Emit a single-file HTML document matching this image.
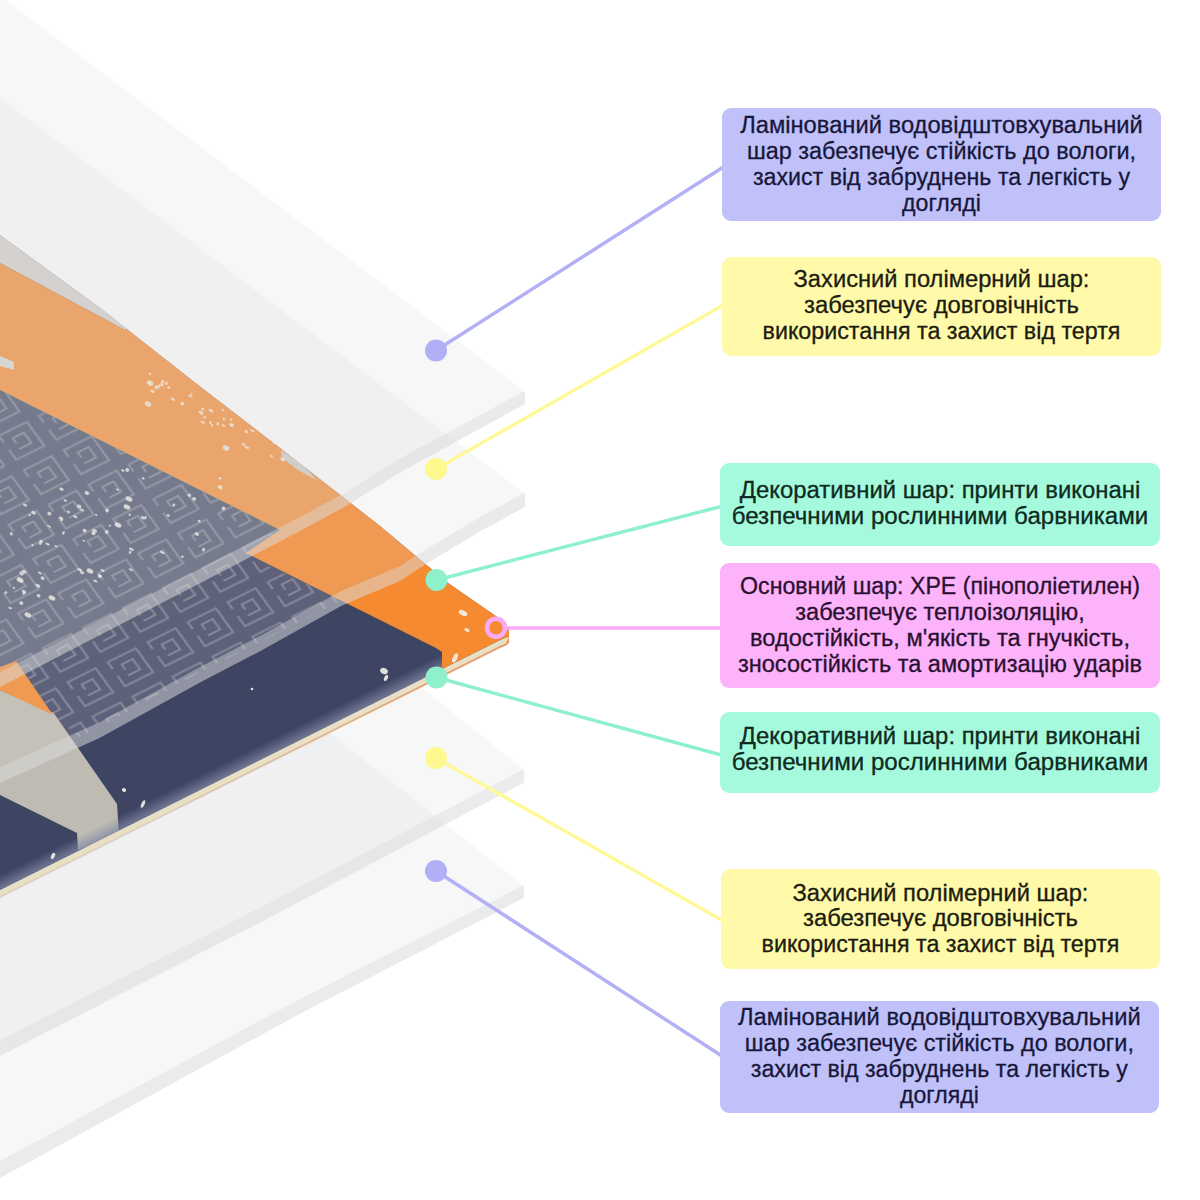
<!DOCTYPE html>
<html lang="uk">
<head>
<meta charset="utf-8">
<title>Шари килимка</title>
<style>
html,body{margin:0;padding:0;background:#fff;}
body{width:1200px;height:1200px;position:relative;overflow:hidden;font-family:"Liberation Sans",sans-serif;}
#art{position:absolute;left:0;top:0;width:1200px;height:1200px;}
.box{position:absolute;left:720px;width:440px;border-radius:9px;box-sizing:border-box;text-align:center;font-size:23px;line-height:25.9px;-webkit-text-stroke:0.3px currentColor;color:#1c1c1c;}
.box span{display:block;white-space:nowrap;transform-origin:50% 50%;}
.lav{background:#c1c1fa;color:#17173a;}
.yel{left:721.5px;width:439px;background:#fffaa9;color:#1d1c10;}
.mint{background:#a5fadd;color:#0f2a20;}
.pink{background:#fcb3fa;color:#2a1030;}
</style>
</head>
<body>
<svg id="art" width="1200" height="1200" viewBox="0 0 1200 1200">
<!--SHEETS-BOTTOM-->
<polygon points="-20.0,457.9 524.0,885.0 300.0,999.0 0.0,1161.0 -20.0,1171.8" fill="#d6d6d6" fill-opacity="0.2"/>
<polygon points="524.0,885.0 300.0,999.0 0.0,1161.0 -20.0,1171.8 -20.0,1189.0 0.0,1178.0 300.0,1013.7 524.0,898.0" fill="#d2d2d2" fill-opacity="0.45"/>
<line x1="-20.0" y1="458.9" x2="524.0" y2="886.0" stroke="#fff" stroke-opacity="0.55" stroke-width="1.6"/>
<polygon points="-20.0,333.0 524.0,768.8 275.0,900.0 0.0,1040.0 -20.0,1050.2" fill="#d6d6d6" fill-opacity="0.2"/>
<polygon points="524.0,768.8 275.0,900.0 0.0,1040.0 -20.0,1050.2 -20.0,1066.3 0.0,1056.0 275.0,914.8 524.0,782.5" fill="#d2d2d2" fill-opacity="0.45"/>
<line x1="-20.0" y1="334.0" x2="524.0" y2="769.8" stroke="#fff" stroke-opacity="0.55" stroke-width="1.6"/>
<!--/SHEETS-BOTTOM-->
<!--MAT-->
<defs><linearGradient id="edgeg" gradientUnits="userSpaceOnUse" x1="150" y1="0" x2="470" y2="0"><stop offset="0" stop-color="#d8d2c0"/><stop offset="1" stop-color="#e39a66"/></linearGradient></defs>
<polygon points="509.0,636.0 506.0,637.5 500.0,640.0 0.0,890.0 -20.0,900.0 -20.0,908.0 0.0,898.0 500.0,648.0 506.0,645.5 509.0,643.0" fill="url(#edgeg)"/>
<polygon points="509.0,636.0 506.0,637.5 500.0,640.0 0.0,890.0 -20.0,900.0 -20.0,906.0 0.0,896.0 500.0,646.0 506.0,643.5" fill="#e9dfc4"/>
<defs><clipPath id="matclip"><polygon points="-20.0,220.4 0.0,235.0 100.0,308.0 200.0,386.5 280.0,448.0 330.0,487.0 380.0,526.0 448.0,583.0 500.0,619.0 506.0,624.0 509.0,630.0 509.0,636.0 506.0,637.5 500.0,640.0 0.0,890.0 -20.0,900.0"/></clipPath>
<pattern id="key" width="40" height="40" patternUnits="userSpaceOnUse" patternTransform="matrix(1.0 -0.5 0.62 0.86 6 4)"><path d="M6 14V6H34V34H6V22 M14 26H26V14H15V20" fill="none" stroke="#fff" stroke-opacity="0.26" stroke-width="1.9"/></pattern>
<linearGradient id="sheen" gradientUnits="userSpaceOnUse" x1="250" y1="765" x2="244" y2="753"><stop offset="0" stop-color="#8088a4" stop-opacity="0.75"/><stop offset="1" stop-color="#8088a4" stop-opacity="0"/></linearGradient>
</defs>
<g clip-path="url(#matclip)">
<rect x="-20" y="200" width="560" height="720" fill="#3e4563"/>
<polygon points="-20.0,380.0 0.0,390.0 280.0,530.0 246.0,556.0 342.0,600.0 260.0,642.0 200.0,672.0 100.0,727.0 80.0,737.0 53.0,715.0 16.0,661.0 -20.0,670.0" fill="url(#key)"/>
<polygon points="-20.0,200.0 -20.0,252.0 0.0,263.0 125.0,330.0 200.0,300.0" fill="#d2cfca"/>
<polygon points="-20.0,252.0 0.0,263.0 125.0,330.0 200.0,300.0 540.0,560.0 520.0,660.0 442.0,668.0 442.0,652.0 436.0,648.0 246.0,553.0 280.0,530.0 0.0,390.0 -20.0,380.0" fill="#f58a30"/>
<polygon points="281,450 300,462 318,481 298,470 282,458" fill="#c9c9c6"/>
<polygon points="0,356 14,362 14,370 0,366" fill="#d9d6d0"/>
<polygon points="-20.0,680.0 0.0,690.0 53.7,713.0 117.0,804.0 119.0,835.0 78.0,850.0 77.0,833.0 0.0,795.0 -20.0,786.0" fill="#bfbbb2"/>
<polygon points="-20.0,672.0 0.0,667.0 16.0,661.0 53.0,715.0 0.0,690.0 -20.0,682.0" fill="#f58a30"/>
<polygon points="442.0,669.0 -20.0,900.0 -20.0,886.0 442.0,655.0" fill="url(#sheen)"/>
<ellipse cx="190.1" cy="396.1" rx="2.2" ry="1.0" fill="#f4f1e8" fill-opacity="0.75" transform="rotate(25 190.1 396.1)"/><ellipse cx="224.0" cy="418.9" rx="1.3" ry="1.4" fill="#f4f1e8" fill-opacity="0.75" transform="rotate(25 224.0 418.9)"/><ellipse cx="150.0" cy="383.7" rx="1.3" ry="1.0" fill="#f4f1e8" fill-opacity="0.75" transform="rotate(25 150.0 383.7)"/><ellipse cx="211.9" cy="425.3" rx="1.4" ry="1.1" fill="#f4f1e8" fill-opacity="0.75" transform="rotate(25 211.9 425.3)"/><ellipse cx="243.6" cy="444.4" rx="2.1" ry="1.3" fill="#f4f1e8" fill-opacity="0.75" transform="rotate(25 243.6 444.4)"/><ellipse cx="286.9" cy="441.7" rx="2.6" ry="1.2" fill="#f4f1e8" fill-opacity="0.75" transform="rotate(25 286.9 441.7)"/><ellipse cx="162.8" cy="381.6" rx="1.7" ry="1.7" fill="#f4f1e8" fill-opacity="0.75" transform="rotate(25 162.8 381.6)"/><ellipse cx="172.9" cy="399.2" rx="2.2" ry="1.3" fill="#f4f1e8" fill-opacity="0.75" transform="rotate(25 172.9 399.2)"/><ellipse cx="222.8" cy="410.1" rx="1.3" ry="1.1" fill="#f4f1e8" fill-opacity="0.75" transform="rotate(25 222.8 410.1)"/><ellipse cx="246.3" cy="431.7" rx="1.7" ry="1.5" fill="#f4f1e8" fill-opacity="0.75" transform="rotate(25 246.3 431.7)"/><ellipse cx="211.0" cy="410.6" rx="2.5" ry="1.6" fill="#f4f1e8" fill-opacity="0.75" transform="rotate(25 211.0 410.6)"/><ellipse cx="182.4" cy="403.7" rx="2.0" ry="1.8" fill="#f4f1e8" fill-opacity="0.75" transform="rotate(25 182.4 403.7)"/><ellipse cx="252.3" cy="430.9" rx="2.8" ry="1.0" fill="#f4f1e8" fill-opacity="0.75" transform="rotate(25 252.3 430.9)"/><ellipse cx="210.3" cy="422.6" rx="1.4" ry="1.4" fill="#f4f1e8" fill-opacity="0.75" transform="rotate(25 210.3 422.6)"/><ellipse cx="152.6" cy="391.3" rx="2.4" ry="1.5" fill="#f4f1e8" fill-opacity="0.75" transform="rotate(25 152.6 391.3)"/><ellipse cx="274.5" cy="442.7" rx="2.3" ry="1.5" fill="#f4f1e8" fill-opacity="0.75" transform="rotate(25 274.5 442.7)"/><ellipse cx="231.5" cy="425.1" rx="2.5" ry="1.8" fill="#f4f1e8" fill-opacity="0.75" transform="rotate(25 231.5 425.1)"/><ellipse cx="217.8" cy="423.8" rx="1.3" ry="1.6" fill="#f4f1e8" fill-opacity="0.75" transform="rotate(25 217.8 423.8)"/><ellipse cx="247.0" cy="447.3" rx="2.5" ry="1.2" fill="#f4f1e8" fill-opacity="0.75" transform="rotate(25 247.0 447.3)"/><ellipse cx="204.6" cy="417.3" rx="1.2" ry="1.4" fill="#f4f1e8" fill-opacity="0.75" transform="rotate(25 204.6 417.3)"/><ellipse cx="166.4" cy="383.4" rx="1.3" ry="1.7" fill="#f4f1e8" fill-opacity="0.75" transform="rotate(25 166.4 383.4)"/><ellipse cx="161.9" cy="384.6" rx="1.8" ry="1.8" fill="#f4f1e8" fill-opacity="0.75" transform="rotate(25 161.9 384.6)"/><ellipse cx="156.6" cy="387.4" rx="2.1" ry="1.8" fill="#f4f1e8" fill-opacity="0.75" transform="rotate(25 156.6 387.4)"/><ellipse cx="271.5" cy="456.1" rx="1.6" ry="1.3" fill="#f4f1e8" fill-opacity="0.75" transform="rotate(25 271.5 456.1)"/><ellipse cx="202.7" cy="422.2" rx="2.7" ry="1.1" fill="#f4f1e8" fill-opacity="0.75" transform="rotate(25 202.7 422.2)"/><ellipse cx="168.8" cy="387.6" rx="1.6" ry="1.4" fill="#f4f1e8" fill-opacity="0.75" transform="rotate(25 168.8 387.6)"/><ellipse cx="231.0" cy="419.6" rx="1.2" ry="1.3" fill="#f4f1e8" fill-opacity="0.75" transform="rotate(25 231.0 419.6)"/><ellipse cx="201.1" cy="412.8" rx="2.7" ry="1.6" fill="#f4f1e8" fill-opacity="0.75" transform="rotate(25 201.1 412.8)"/><ellipse cx="223.5" cy="425.4" rx="2.3" ry="1.0" fill="#f4f1e8" fill-opacity="0.75" transform="rotate(25 223.5 425.4)"/><ellipse cx="282.7" cy="459.4" rx="2.6" ry="1.7" fill="#f4f1e8" fill-opacity="0.75" transform="rotate(25 282.7 459.4)"/><ellipse cx="202.8" cy="409.2" rx="1.4" ry="1.5" fill="#f4f1e8" fill-opacity="0.75" transform="rotate(25 202.8 409.2)"/><ellipse cx="150.0" cy="373.8" rx="1.5" ry="1.1" fill="#f4f1e8" fill-opacity="0.75" transform="rotate(25 150.0 373.8)"/><ellipse cx="191.5" cy="394.2" rx="1.2" ry="1.1" fill="#f4f1e8" fill-opacity="0.75" transform="rotate(25 191.5 394.2)"/><ellipse cx="158.9" cy="386.2" rx="1.2" ry="1.8" fill="#f4f1e8" fill-opacity="0.75" transform="rotate(25 158.9 386.2)"/><ellipse cx="150.0" cy="383.0" rx="3.4" ry="2.4" fill="#f4f1e8" fill-opacity="0.80" transform="rotate(25 150.0 383.0)"/><ellipse cx="148.0" cy="404.0" rx="3.4" ry="2.4" fill="#f4f1e8" fill-opacity="0.80" transform="rotate(25 148.0 404.0)"/><ellipse cx="226.0" cy="448.0" rx="3.4" ry="2.4" fill="#f4f1e8" fill-opacity="0.80" transform="rotate(25 226.0 448.0)"/><ellipse cx="143.2" cy="478.4" rx="1.5" ry="1.2" fill="#f4f1e8" fill-opacity="0.80" transform="rotate(25 143.2 478.4)"/><ellipse cx="86.9" cy="493.0" rx="2.5" ry="1.9" fill="#f4f1e8" fill-opacity="0.80" transform="rotate(25 86.9 493.0)"/><ellipse cx="109.8" cy="525.6" rx="1.2" ry="1.0" fill="#f4f1e8" fill-opacity="0.80" transform="rotate(25 109.8 525.6)"/><ellipse cx="82.1" cy="510.1" rx="2.4" ry="1.1" fill="#f4f1e8" fill-opacity="0.80" transform="rotate(25 82.1 510.1)"/><ellipse cx="10.2" cy="608.0" rx="1.9" ry="1.0" fill="#f4f1e8" fill-opacity="0.80" transform="rotate(25 10.2 608.0)"/><ellipse cx="127.2" cy="470.0" rx="1.9" ry="1.9" fill="#f4f1e8" fill-opacity="0.80" transform="rotate(25 127.2 470.0)"/><ellipse cx="199.2" cy="521.1" rx="1.5" ry="1.3" fill="#f4f1e8" fill-opacity="0.80" transform="rotate(25 199.2 521.1)"/><ellipse cx="42.6" cy="578.2" rx="2.0" ry="1.7" fill="#f4f1e8" fill-opacity="0.80" transform="rotate(25 42.6 578.2)"/><ellipse cx="79.2" cy="506.5" rx="2.4" ry="1.9" fill="#f4f1e8" fill-opacity="0.80" transform="rotate(25 79.2 506.5)"/><ellipse cx="196.8" cy="534.0" rx="2.4" ry="1.6" fill="#f4f1e8" fill-opacity="0.80" transform="rotate(25 196.8 534.0)"/><ellipse cx="56.0" cy="546.1" rx="1.7" ry="0.9" fill="#f4f1e8" fill-opacity="0.80" transform="rotate(25 56.0 546.1)"/><ellipse cx="11.3" cy="533.8" rx="1.5" ry="1.6" fill="#f4f1e8" fill-opacity="0.80" transform="rotate(25 11.3 533.8)"/><ellipse cx="220.2" cy="487.2" rx="2.6" ry="1.9" fill="#f4f1e8" fill-opacity="0.80" transform="rotate(25 220.2 487.2)"/><ellipse cx="219.9" cy="478.3" rx="1.5" ry="1.1" fill="#f4f1e8" fill-opacity="0.80" transform="rotate(25 219.9 478.3)"/><ellipse cx="49.3" cy="513.7" rx="2.1" ry="1.8" fill="#f4f1e8" fill-opacity="0.80" transform="rotate(25 49.3 513.7)"/><ellipse cx="194.1" cy="498.9" rx="2.1" ry="1.7" fill="#f4f1e8" fill-opacity="0.80" transform="rotate(25 194.1 498.9)"/><ellipse cx="24.1" cy="571.7" rx="2.6" ry="1.7" fill="#f4f1e8" fill-opacity="0.80" transform="rotate(25 24.1 571.7)"/><ellipse cx="173.8" cy="505.1" rx="1.4" ry="1.7" fill="#f4f1e8" fill-opacity="0.80" transform="rotate(25 173.8 505.1)"/><ellipse cx="79.8" cy="569.8" rx="2.7" ry="1.3" fill="#f4f1e8" fill-opacity="0.80" transform="rotate(25 79.8 569.8)"/><ellipse cx="95.3" cy="581.1" rx="2.3" ry="1.1" fill="#f4f1e8" fill-opacity="0.80" transform="rotate(25 95.3 581.1)"/><ellipse cx="33.6" cy="512.7" rx="2.5" ry="1.7" fill="#f4f1e8" fill-opacity="0.80" transform="rotate(25 33.6 512.7)"/><ellipse cx="37.9" cy="585.7" rx="2.7" ry="1.6" fill="#f4f1e8" fill-opacity="0.80" transform="rotate(25 37.9 585.7)"/><ellipse cx="83.8" cy="540.8" rx="1.3" ry="0.9" fill="#f4f1e8" fill-opacity="0.80" transform="rotate(25 83.8 540.8)"/><ellipse cx="223.5" cy="508.5" rx="1.9" ry="1.8" fill="#f4f1e8" fill-opacity="0.80" transform="rotate(25 223.5 508.5)"/><ellipse cx="102.6" cy="570.5" rx="2.4" ry="1.1" fill="#f4f1e8" fill-opacity="0.80" transform="rotate(25 102.6 570.5)"/><ellipse cx="61.7" cy="519.6" rx="1.5" ry="1.5" fill="#f4f1e8" fill-opacity="0.80" transform="rotate(25 61.7 519.6)"/><ellipse cx="63.4" cy="532.9" rx="1.3" ry="1.8" fill="#f4f1e8" fill-opacity="0.80" transform="rotate(25 63.4 532.9)"/><ellipse cx="84.6" cy="530.6" rx="2.0" ry="1.8" fill="#f4f1e8" fill-opacity="0.80" transform="rotate(25 84.6 530.6)"/><ellipse cx="99.6" cy="576.5" rx="1.9" ry="1.4" fill="#f4f1e8" fill-opacity="0.80" transform="rotate(25 99.6 576.5)"/><ellipse cx="122.8" cy="470.4" rx="1.8" ry="1.1" fill="#f4f1e8" fill-opacity="0.80" transform="rotate(25 122.8 470.4)"/><ellipse cx="5.9" cy="592.6" rx="1.4" ry="1.4" fill="#f4f1e8" fill-opacity="0.80" transform="rotate(25 5.9 592.6)"/><ellipse cx="168.2" cy="515.4" rx="1.6" ry="1.4" fill="#f4f1e8" fill-opacity="0.80" transform="rotate(25 168.2 515.4)"/><ellipse cx="130.0" cy="552.4" rx="1.3" ry="1.5" fill="#f4f1e8" fill-opacity="0.80" transform="rotate(25 130.0 552.4)"/><ellipse cx="60.9" cy="518.1" rx="2.3" ry="1.4" fill="#f4f1e8" fill-opacity="0.80" transform="rotate(25 60.9 518.1)"/><ellipse cx="131.4" cy="549.3" rx="2.6" ry="1.3" fill="#f4f1e8" fill-opacity="0.80" transform="rotate(25 131.4 549.3)"/><ellipse cx="142.8" cy="517.7" rx="1.9" ry="1.6" fill="#f4f1e8" fill-opacity="0.80" transform="rotate(25 142.8 517.7)"/><ellipse cx="106.8" cy="532.0" rx="1.9" ry="1.8" fill="#f4f1e8" fill-opacity="0.80" transform="rotate(25 106.8 532.0)"/><ellipse cx="162.3" cy="552.5" rx="2.6" ry="1.2" fill="#f4f1e8" fill-opacity="0.80" transform="rotate(25 162.3 552.5)"/><ellipse cx="130.9" cy="569.6" rx="2.4" ry="1.0" fill="#f4f1e8" fill-opacity="0.80" transform="rotate(25 130.9 569.6)"/><ellipse cx="32.4" cy="545.1" rx="1.2" ry="1.1" fill="#f4f1e8" fill-opacity="0.80" transform="rotate(25 32.4 545.1)"/><ellipse cx="21.5" cy="573.5" rx="2.4" ry="1.8" fill="#f4f1e8" fill-opacity="0.80" transform="rotate(25 21.5 573.5)"/><ellipse cx="39.8" cy="573.0" rx="2.2" ry="1.0" fill="#f4f1e8" fill-opacity="0.80" transform="rotate(25 39.8 573.0)"/><ellipse cx="203.6" cy="549.6" rx="1.5" ry="1.9" fill="#f4f1e8" fill-opacity="0.80" transform="rotate(25 203.6 549.6)"/><ellipse cx="94.6" cy="530.7" rx="2.7" ry="1.7" fill="#f4f1e8" fill-opacity="0.80" transform="rotate(25 94.6 530.7)"/><ellipse cx="41.3" cy="541.2" rx="1.9" ry="1.2" fill="#f4f1e8" fill-opacity="0.80" transform="rotate(25 41.3 541.2)"/><ellipse cx="49.0" cy="526.3" rx="2.3" ry="0.9" fill="#f4f1e8" fill-opacity="0.80" transform="rotate(25 49.0 526.3)"/><ellipse cx="129.7" cy="514.7" rx="1.1" ry="1.2" fill="#f4f1e8" fill-opacity="0.80" transform="rotate(25 129.7 514.7)"/><ellipse cx="145.4" cy="517.7" rx="1.2" ry="1.9" fill="#f4f1e8" fill-opacity="0.80" transform="rotate(25 145.4 517.7)"/><ellipse cx="182.4" cy="556.7" rx="1.3" ry="1.2" fill="#f4f1e8" fill-opacity="0.80" transform="rotate(25 182.4 556.7)"/><ellipse cx="13.9" cy="587.9" rx="1.5" ry="1.0" fill="#f4f1e8" fill-opacity="0.80" transform="rotate(25 13.9 587.9)"/><ellipse cx="100.0" cy="575.7" rx="2.4" ry="1.2" fill="#f4f1e8" fill-opacity="0.80" transform="rotate(25 100.0 575.7)"/><ellipse cx="38.6" cy="595.7" rx="2.0" ry="1.6" fill="#f4f1e8" fill-opacity="0.80" transform="rotate(25 38.6 595.7)"/><ellipse cx="25.1" cy="505.1" rx="2.2" ry="1.3" fill="#f4f1e8" fill-opacity="0.80" transform="rotate(25 25.1 505.1)"/><ellipse cx="21.3" cy="603.1" rx="2.1" ry="1.7" fill="#f4f1e8" fill-opacity="0.80" transform="rotate(25 21.3 603.1)"/><ellipse cx="23.8" cy="593.3" rx="1.2" ry="1.8" fill="#f4f1e8" fill-opacity="0.80" transform="rotate(25 23.8 593.3)"/><ellipse cx="107.1" cy="510.5" rx="2.0" ry="1.8" fill="#f4f1e8" fill-opacity="0.80" transform="rotate(25 107.1 510.5)"/><ellipse cx="65.3" cy="500.5" rx="1.9" ry="1.1" fill="#f4f1e8" fill-opacity="0.80" transform="rotate(25 65.3 500.5)"/><ellipse cx="29.6" cy="515.1" rx="1.2" ry="1.1" fill="#f4f1e8" fill-opacity="0.80" transform="rotate(25 29.6 515.1)"/><ellipse cx="75.2" cy="516.7" rx="2.3" ry="1.2" fill="#f4f1e8" fill-opacity="0.80" transform="rotate(25 75.2 516.7)"/><ellipse cx="117.5" cy="489.6" rx="1.7" ry="0.9" fill="#f4f1e8" fill-opacity="0.80" transform="rotate(25 117.5 489.6)"/><ellipse cx="61.4" cy="489.2" rx="2.3" ry="1.5" fill="#f4f1e8" fill-opacity="0.80" transform="rotate(25 61.4 489.2)"/><ellipse cx="47.6" cy="544.0" rx="2.6" ry="1.0" fill="#f4f1e8" fill-opacity="0.80" transform="rotate(25 47.6 544.0)"/><ellipse cx="189.3" cy="495.2" rx="1.9" ry="1.7" fill="#f4f1e8" fill-opacity="0.80" transform="rotate(25 189.3 495.2)"/><ellipse cx="93.4" cy="533.2" rx="2.2" ry="1.9" fill="#f4f1e8" fill-opacity="0.80" transform="rotate(25 93.4 533.2)"/><ellipse cx="82.1" cy="572.6" rx="2.2" ry="1.5" fill="#f4f1e8" fill-opacity="0.80" transform="rotate(25 82.1 572.6)"/><ellipse cx="96.1" cy="514.9" rx="1.2" ry="1.0" fill="#f4f1e8" fill-opacity="0.80" transform="rotate(25 96.1 514.9)"/><ellipse cx="20.9" cy="581.5" rx="1.5" ry="1.1" fill="#f4f1e8" fill-opacity="0.80" transform="rotate(25 20.9 581.5)"/><ellipse cx="24.0" cy="591.6" rx="2.5" ry="1.6" fill="#f4f1e8" fill-opacity="0.80" transform="rotate(25 24.0 591.6)"/><ellipse cx="68.4" cy="511.9" rx="1.6" ry="1.4" fill="#f4f1e8" fill-opacity="0.80" transform="rotate(25 68.4 511.9)"/><ellipse cx="40.4" cy="543.0" rx="1.5" ry="1.9" fill="#f4f1e8" fill-opacity="0.80" transform="rotate(25 40.4 543.0)"/><ellipse cx="129.0" cy="499.0" rx="3.6" ry="2.3" fill="#f4f1e8" fill-opacity="0.85" transform="rotate(25 129.0 499.0)"/><ellipse cx="118.0" cy="525.0" rx="3.6" ry="2.3" fill="#f4f1e8" fill-opacity="0.85" transform="rotate(25 118.0 525.0)"/><ellipse cx="127.0" cy="507.0" rx="3.6" ry="2.3" fill="#f4f1e8" fill-opacity="0.85" transform="rotate(25 127.0 507.0)"/><ellipse cx="28.0" cy="615.0" rx="3.6" ry="2.3" fill="#f4f1e8" fill-opacity="0.85" transform="rotate(25 28.0 615.0)"/><ellipse cx="52.0" cy="598.0" rx="3.6" ry="2.3" fill="#f4f1e8" fill-opacity="0.85" transform="rotate(25 52.0 598.0)"/><ellipse cx="90.0" cy="571.0" rx="3.6" ry="2.3" fill="#f4f1e8" fill-opacity="0.85" transform="rotate(25 90.0 571.0)"/><ellipse cx="20.0" cy="580.0" rx="3.6" ry="2.3" fill="#f4f1e8" fill-opacity="0.85" transform="rotate(25 20.0 580.0)"/><ellipse cx="463.0" cy="613.0" rx="4.6" ry="2.6" fill="#f4f1e8" fill-opacity="0.90" transform="rotate(25 463.0 613.0)"/><ellipse cx="467.0" cy="630.0" rx="2.8" ry="1.6" fill="#f4f1e8" fill-opacity="0.90" transform="rotate(25 467.0 630.0)"/><ellipse cx="455.0" cy="658.0" rx="2.2" ry="5.0" fill="#f4f1e8" fill-opacity="0.90" transform="rotate(25 455.0 658.0)"/><ellipse cx="384.0" cy="671.0" rx="4.0" ry="3.0" fill="#f4f1e8" fill-opacity="0.90" transform="rotate(25 384.0 671.0)"/><ellipse cx="386.0" cy="678.0" rx="1.8" ry="3.2" fill="#f4f1e8" fill-opacity="0.90" transform="rotate(25 386.0 678.0)"/><ellipse cx="124.0" cy="790.0" rx="2.2" ry="1.8" fill="#f4f1e8" fill-opacity="0.90" transform="rotate(25 124.0 790.0)"/><ellipse cx="143.0" cy="804.0" rx="1.6" ry="4.0" fill="#f4f1e8" fill-opacity="0.90" transform="rotate(25 143.0 804.0)"/><ellipse cx="53.0" cy="856.0" rx="1.8" ry="3.4" fill="#f4f1e8" fill-opacity="0.90" transform="rotate(25 53.0 856.0)"/><ellipse cx="252.0" cy="689.0" rx="1.3" ry="1.3" fill="#f4f1e8" fill-opacity="0.90" transform="rotate(25 252.0 689.0)"/>
</g>
<!--/MAT-->
<!--SHEETS-TOP-->
<polygon points="-20.0,81.6 525.0,492.5 480.0,517.0 420.0,553.0 400.0,566.0 342.0,590.5 260.0,636.0 200.0,667.0 100.0,722.0 0.0,767.0 -20.0,776.0" fill="#d6d6d6" fill-opacity="0.205"/>
<polygon points="525.0,492.5 480.0,517.0 420.0,553.0 400.0,566.0 342.0,590.5 260.0,636.0 200.0,667.0 100.0,722.0 0.0,767.0 -20.0,776.0 -20.0,792.1 0.0,783.0 100.0,737.7 200.0,682.4 260.0,651.3 342.0,605.5 400.0,580.9 420.0,567.8 480.0,531.6 525.0,507.0" fill="#d2d2d2" fill-opacity="0.46"/>
<line x1="-20.0" y1="82.6" x2="525.0" y2="493.5" stroke="#fff" stroke-opacity="0.55" stroke-width="1.6"/>
<polygon points="-20.0,-20.1 525.0,390.5 400.0,458.5 360.0,483.0 347.0,491.5 300.0,517.0 210.0,563.5 60.0,641.0 0.0,672.0 -20.0,682.3" fill="#d6d6d6" fill-opacity="0.205"/>
<polygon points="525.0,390.5 400.0,458.5 360.0,483.0 347.0,491.5 300.0,517.0 210.0,563.5 60.0,641.0 0.0,672.0 -20.0,682.3 -20.0,697.4 0.0,687.0 60.0,655.8 210.0,577.9 300.0,531.1 347.0,505.5 360.0,497.0 400.0,472.4 525.0,404.0" fill="#d2d2d2" fill-opacity="0.46"/>
<line x1="-20.0" y1="-19.1" x2="525.0" y2="391.5" stroke="#fff" stroke-opacity="0.55" stroke-width="1.6"/>
<polygon points="525.0,492.5 480.0,517.0 420.0,553.0 400.0,566.0 342.0,590.5 260.0,636.0 200.0,667.0 100.0,722.0 0.0,767.0 -20.0,776.0 -20.0,792.1 0.0,783.0 100.0,737.7 200.0,682.4 260.0,651.3 342.0,605.5 400.0,580.9 420.0,567.8 480.0,531.6 525.0,507.0" fill="#fff" fill-opacity="0.13" clip-path="url(#matclip)"/>
<polygon points="525.0,390.5 400.0,458.5 360.0,483.0 347.0,491.5 300.0,517.0 210.0,563.5 60.0,641.0 0.0,672.0 -20.0,682.3 -20.0,697.4 0.0,687.0 60.0,655.8 210.0,577.9 300.0,531.1 347.0,505.5 360.0,497.0 400.0,472.4 525.0,404.0" fill="#fff" fill-opacity="0.13" clip-path="url(#matclip)"/>
<!--/SHEETS-TOP-->
<g id="connectors" fill="none" stroke-width="3.5" stroke-linecap="round">
<line x1="436" y1="350.5" x2="725" y2="166" stroke="#b2b0f6"/>
<line x1="436" y1="469" x2="725" y2="304" stroke="#fef998"/>
<line x1="436.5" y1="580" x2="725" y2="505.5" stroke="#8ff0cc"/>
<line x1="506" y1="628" x2="725" y2="628" stroke="#f9a9f7"/>
<line x1="436.5" y1="677.5" x2="725" y2="756" stroke="#8ff0cc"/>
<line x1="436" y1="758" x2="725" y2="922" stroke="#fef998"/>
<line x1="436" y1="871" x2="725" y2="1058" stroke="#b2b0f6"/>
</g>
<g id="dots">
<circle cx="436" cy="350.5" r="11" fill="#b1aff6"/>
<circle cx="436" cy="469" r="11" fill="#fef88f"/>
<circle cx="436.5" cy="580" r="11" fill="#8ff0cc"/>
<circle cx="496" cy="627.8" r="9" fill="none" stroke="#f9a9f7" stroke-width="4.5"/>
<circle cx="436.5" cy="677.5" r="11" fill="#8ff0cc"/>
<circle cx="436" cy="758" r="11" fill="#fef88f"/>
<circle cx="436" cy="871" r="11" fill="#b1aff6"/>
</g>
<!--CONNECTORS-->
</svg>

<div class="box lav" style="left:721.5px;width:439px;top:108.0px;height:112.7px;padding-top:5.2px;">
<span style="transform:scaleX(1.0316)">Ламінований водовідштовхувальний</span><span style="transform:scaleX(1.0184)">шар забезпечує стійкість до вологи,</span><span style="transform:scaleX(1.0080)">захист від забруднень та легкість у</span><span style="transform:scaleX(1.0040)">догляді</span>
</div>
<div class="box yel" style="top:256.7px;height:99.1px;padding-top:10.6px;">
<span style="transform:scaleX(1.0302)">Захисний полімерний шар:</span><span style="transform:scaleX(1.0361)">забезпечує довговічність</span><span style="transform:scaleX(1.0121)">використання та захист від тертя</span>
</div>
<div class="box mint" style="top:463.4px;height:82.8px;padding-top:14.9px;">
<span style="transform:scaleX(1.0377)">Декоративний шар: принти виконані</span><span style="transform:scaleX(1.0482)">безпечними рослинними барвниками</span>
</div>
<div class="box pink" style="top:563.3px;height:125.0px;padding-top:10.7px;">
<span style="transform:scaleX(1.0071)">Основний шар: XPE (пінополіетилен)</span><span style="transform:scaleX(1.0244)">забезпечує теплоізоляцію,</span><span style="transform:scaleX(1.0260)">водостійкість, м'якість та гнучкість,</span><span style="transform:scaleX(1.0226)">зносостійкість та амортизацію ударів</span>
</div>
<div class="box mint" style="top:711.7px;height:80.9px;padding-top:12.4px;">
<span style="transform:scaleX(1.0377)">Декоративний шар: принти виконані</span><span style="transform:scaleX(1.0482)">безпечними рослинними барвниками</span>
</div>
<div class="box yel" style="left:720.5px;width:439px;top:869.2px;height:100.0px;padding-top:11.4px;">
<span style="transform:scaleX(1.0302)">Захисний полімерний шар:</span><span style="transform:scaleX(1.0361)">забезпечує довговічність</span><span style="transform:scaleX(1.0121)">використання та захист від тертя</span>
</div>
<div class="box lav" style="left:720px;width:438.8px;top:1000.8px;height:112.5px;padding-top:4.0px;">
<span style="transform:scaleX(1.0316)">Ламінований водовідштовхувальний</span><span style="transform:scaleX(1.0184)">шар забезпечує стійкість до вологи,</span><span style="transform:scaleX(1.0080)">захист від забруднень та легкість у</span><span style="transform:scaleX(1.0040)">догляді</span>
</div>
</body>
</html>
